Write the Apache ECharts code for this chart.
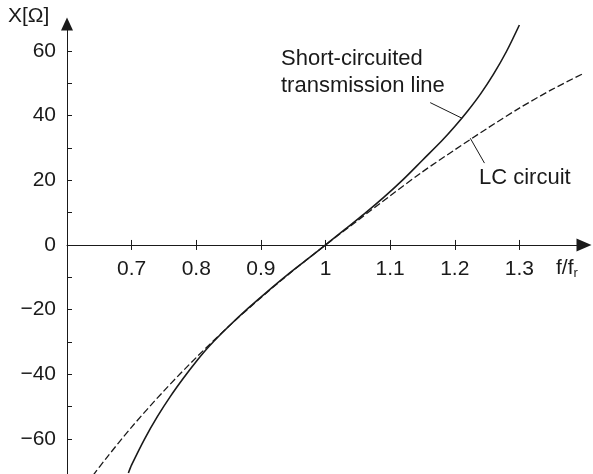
<!DOCTYPE html>
<html>
<head>
<meta charset="utf-8">
<script src="https://cdn.jsdelivr.net/npm/echarts@6/dist/echarts.min.js"></script>
<style>
html,body{margin:0;padding:0;background:#fff;}
#chart{width:593px;height:474px;}
</style>
</head>
<body>
<div id="chart"></div>
<script>
// f/fr values and reactance X[Ω]
var lineF = [0.695,0.70,0.72,0.74,0.76,0.78,0.80,0.82,0.85,0.88,0.91,0.94,0.97,1.00,1.03,1.06,1.09,1.12,1.15,1.18,1.20,1.22,1.24,1.26,1.28,1.30];
var lineX = [-70.5,-68,-60,-53,-46.8,-41.2,-36,-31.3,-25.2,-19.6,-14.4,-9.4,-4.7,0,4.8,9.6,14.7,20.2,26.2,32.2,36.6,41.4,46.7,52.8,59.8,68];
var lcF = [0.64,0.66,0.70,0.75,0.80,0.85,0.90,0.95,1.00,1.05,1.10,1.15,1.20,1.25,1.30,1.35,1.40];
var lcX = [-71.3,-66.1,-56.3,-45.1,-34.8,-25.2,-16.3,-7.9,0,7.6,15.2,22.6,29.4,36,42.3,48,53.1];
var xTicks = [0.7,0.8,0.9,1,1.1,1.2,1.3];
var yTicks = [-60,-50,-40,-30,-20,-10,0,10,20,30,40,50,60];
var yLabels = [-60,-40,-20,0,20,40,60];

var FONT = 'Liberation Sans, Arial, sans-serif';
var INK = '#1a1a1a';
var Y_MIN = -70.8, Y_MAX = 68.3, GRID_TOP = 24, GRID_BOTTOM = 0, H = 474;
// offset moving the bottom x axis up to the value 0 of the y axis
var gridH = H - GRID_TOP - GRID_BOTTOM;
var zeroOffset = -(gridH * (0 - Y_MIN) / (Y_MAX - Y_MIN));

function pairs(a, b){ return a.map(function(v,i){ return [v, b[i]]; }); }

var chart = echarts.init(document.getElementById('chart'), null, {renderer:'canvas'});
var xBase = {
  type:'value', min:0.6, max:1.4, gridIndex:0, position:'bottom', offset:zeroOffset,
  splitLine:{show:false}
};
chart.setOption({
  animation:false,
  backgroundColor:'#fff',
  grid:{left:67, right:9, top:GRID_TOP, bottom:GRID_BOTTOM, containLabel:false, outerBoundsMode:'none'},
  xAxis:[
    Object.assign({}, xBase, {
      axisLine:{show:true, onZero:false, lineStyle:{color:INK, width:1},
        symbol:['none','triangle'], symbolSize:[13,15]},
      axisTick:{show:true, inside:false, length:5, customValues:xTicks, lineStyle:{color:INK}},
      axisLabel:{show:true, customValues:xTicks, margin:14, color:INK, fontSize:21, fontFamily:FONT,
        formatter:function(v){ return String(Math.round(v*10)/10); }}
    }),
    Object.assign({}, xBase, {
      axisLine:{show:false, onZero:false},
      axisTick:{show:true, inside:true, length:5, customValues:xTicks, lineStyle:{color:INK}},
      axisLabel:{show:false}
    })
  ],
  yAxis:{
    type:'value', min:Y_MIN, max:Y_MAX,
    splitLine:{show:false},
    axisLine:{show:true, onZero:false, lineStyle:{color:INK, width:1},
      symbol:['none','triangle'], symbolSize:[12,13]},
    axisTick:{show:true, inside:true, length:5, customValues:yTicks, lineStyle:{color:INK}},
    axisLabel:{show:true, customValues:yLabels, margin:11, color:INK, fontSize:21, fontFamily:FONT,
      formatter:function(v){ return v < 0 ? '\u2212' + Math.abs(v) : String(v); }}
  },
  series:[
    {
      name:'Short-circuited transmission line', type:'line', data:pairs(lineF, lineX),
      smooth:0.3, showSymbol:false, symbol:'none', clip:true,
      lineStyle:{color:INK, width:1.6},
      markLine:{silent:true, symbol:'none', label:{show:false},
        lineStyle:{color:INK, width:1, type:'solid'},
        data:[[{coord:[1.162,44.0]},{coord:[1.211,39.2]}]]}
    },
    {
      name:'LC circuit', type:'line', data:pairs(lcF, lcX),
      smooth:0.3, showSymbol:false, symbol:'none', clip:true,
      lineStyle:{color:INK, width:1.3, type:[7,3]},
      markLine:{silent:true, symbol:'none', label:{show:false},
        lineStyle:{color:INK, width:1, type:'solid'},
        data:[[{coord:[1.224,33.0]},{coord:[1.246,25.3]}]]}
    }
  ],
  graphic:[
    {type:'text', left:8, top:6, style:{text:'X[\u03A9]', font:'21px ' + FONT, fill:INK}},
    {type:'text', left:556, top:258, style:{
      text:'f/f{s|r}', font:'21px ' + FONT, fill:INK,
      rich:{s:{fontSize:13, fontFamily:FONT, fill:INK, verticalAlign:'bottom', padding:[10,0,0,0]}}}},
    {type:'text', left:281, top:45, style:{text:'Short-circuited\ntransmission line', font:'22px ' + FONT, fill:INK, lineHeight:27}},
    {type:'text', left:479, top:167, style:{text:'LC circuit', font:'22px ' + FONT, fill:INK}}
  ]
});
</script>
</body>
</html>
